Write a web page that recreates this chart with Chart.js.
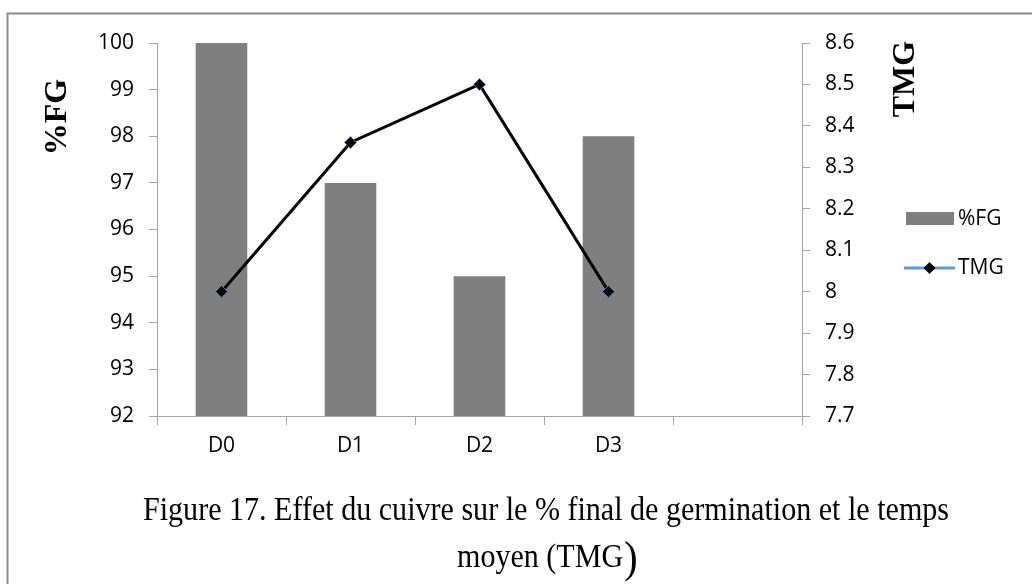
<!DOCTYPE html>
<html>
<head>
<meta charset="utf-8">
<script src="https://cdn.jsdelivr.net/npm/chart.js@4.4.1/dist/chart.umd.min.js"></script>
<style>
html,body{margin:0;padding:0;background:#fff;}
#wrap{width:1032px;height:584px;position:relative;}
</style>
</head>
<body>
<div id="wrap"><canvas id="c" width="1032" height="584"></canvas></div>
<script>
// ---- data ----
const categories = ["D0", "D1", "D2", "D3", ""];
const fgValues = [100, 97, 95, 98, null];
const tmgValues = [8.0, 8.36, 8.5, 8.0, null];
const leftTicks = [92, 93, 94, 95, 96, 97, 98, 99, 100];
const rightTicks = [7.7, 7.8, 7.9, 8.0, 8.1, 8.2, 8.3, 8.4, 8.5, 8.6];
const fgLabel = "%FG";
const tmgLabel = "TMG";
const captionLine1 = "Figure 17. Effet du cuivre sur le % final de germination et le temps";
const captionLine2 = "moyen (TMG";
const captionClose = ")";

const AXIS = '#a6a6a6';
const tickFont = {family: "'Open Sans', 'Liberation Sans', sans-serif", size: 21};

const decor = {
  id: 'decor',
  beforeDraw(chart) {
    const ctx = chart.ctx;
    ctx.save();
    ctx.fillStyle = '#fff';
    ctx.fillRect(0, 0, chart.width, chart.height);
    ctx.strokeStyle = '#8c8c8c';
    ctx.lineWidth = 2;
    ctx.beginPath();
    ctx.moveTo(7.5, 584);
    ctx.lineTo(7.5, 13.5);
    ctx.lineTo(1032, 13.5);
    ctx.stroke();
    ctx.restore();
  },
  afterDraw(chart) {
    const ctx = chart.ctx;
    ctx.save();
    ctx.fillStyle = '#000';
    ctx.font = "bold 32px 'Liberation Serif', 'Times New Roman', serif";
    ctx.textAlign = 'center';
    ctx.textBaseline = 'middle';
    ctx.save();
    ctx.translate(58, 117);
    ctx.rotate(-Math.PI / 2);
    ctx.fillText(fgLabel, 0, 0);
    ctx.restore();
    ctx.save();
    ctx.translate(906, 79);
    ctx.rotate(-Math.PI / 2);
    ctx.fillText(tmgLabel, 0, 0);
    ctx.restore();

    // legend
    ctx.fillStyle = '#7f7f7f';
    ctx.fillRect(906, 212, 48, 13);
    ctx.strokeStyle = '#5b9bd5';
    ctx.lineWidth = 3;
    ctx.beginPath();
    ctx.moveTo(904, 268);
    ctx.lineTo(955, 268);
    ctx.stroke();
    ctx.fillStyle = '#000';
    ctx.beginPath();
    ctx.moveTo(929.5, 262);
    ctx.lineTo(935.5, 268);
    ctx.lineTo(929.5, 274);
    ctx.lineTo(923.5, 268);
    ctx.closePath();
    ctx.fill();
    ctx.font = "21px 'Open Sans', 'Liberation Sans', sans-serif";
    ctx.textAlign = 'left';
    ctx.textBaseline = 'middle';
    ctx.fillStyle = '#000';
    ctx.fillText(fgLabel, 958, 219);
    ctx.fillText(tmgLabel, 958, 268);

    // caption
    ctx.font = "33px 'Liberation Serif', 'Times New Roman', serif";
    ctx.textBaseline = 'alphabetic';
    ctx.textAlign = 'left';
    const w1 = ctx.measureText(captionLine1).width;
    const sx1 = 806 / w1;
    ctx.save();
    ctx.translate(143, 520);
    ctx.scale(sx1, 1);
    ctx.fillText(captionLine1, 0, 0);
    ctx.restore();
    const w2 = ctx.measureText(captionLine2).width;
    ctx.save();
    ctx.translate(457, 567);
    ctx.scale(sx1, 1);
    ctx.fillText(captionLine2, 0, 0);
    ctx.restore();
    ctx.save();
    ctx.font = "44px 'Liberation Serif', 'Times New Roman', serif";
    ctx.translate(457 + w2 * sx1 + 1, 572);
    ctx.scale(sx1, 1);
    ctx.fillText(captionClose, 0, 0);
    ctx.restore();
    ctx.restore();
  }
};

new Chart(document.getElementById('c'), {
  data: {
    labels: categories,
    datasets: [
      {
        type: 'line',
        label: tmgLabel,
        data: tmgValues,
        yAxisID: 'y1',
        borderColor: '#000',
        borderWidth: 3,
        pointStyle: 'rectRot',
        pointRadius: 6,
        pointBackgroundColor: '#000',
        pointBorderColor: '#4a7ebb',
        pointBorderWidth: 1,
        tension: 0,
        order: 0
      },
      {
        type: 'bar',
        label: fgLabel,
        data: fgValues,
        yAxisID: 'y',
        backgroundColor: '#7f7f7f',
        borderWidth: 0,
        barPercentage: 0.4,
        categoryPercentage: 1.0,
        order: 1
      }
    ]
  },
  options: {
    responsive: false,
    animation: false,
    layout: {padding: {top: 43, left: 0, right: 0, bottom: 0}},
    plugins: {legend: {display: false}, tooltip: {enabled: false}},
    scales: {
      x: {
        type: 'category',
        offset: true,
        grid: {offset: true, drawOnChartArea: false, drawTicks: true, tickLength: 9, color: AXIS, lineWidth: 1},
        border: {color: AXIS, width: 1},
        ticks: {color: '#000', font: tickFont, padding: 8, maxRotation: 0},
        afterFit(s) { s.height = 584 - 43 - 373; }
      },
      y: {
        position: 'left',
        min: 92, max: 100,
        afterBuildTicks(s) { s.ticks = leftTicks.map(v => ({value: v})); },
        grid: {drawOnChartArea: false, drawTicks: true, tickLength: 8, color: AXIS},
        border: {color: AXIS, width: 1},
        ticks: {color: '#000', font: tickFont, padding: 15},
        afterFit(s) { s.width = 157; }
      },
      y1: {
        position: 'right',
        min: 7.7, max: 8.6,
        afterBuildTicks(s) { s.ticks = rightTicks.map(v => ({value: v})); },
        grid: {drawOnChartArea: false, drawTicks: true, tickLength: 8, color: AXIS},
        border: {color: AXIS, width: 1},
        ticks: {color: '#000', font: tickFont, padding: 15,
          callback: (v) => { const r = Math.round(v * 10) / 10; return Number.isInteger(r) ? String(r) : r.toFixed(1); }},
        afterFit(s) { s.width = 1032 - 802; }
      }
    }
  },
  plugins: [decor]
});
</script>
</body>
</html>
